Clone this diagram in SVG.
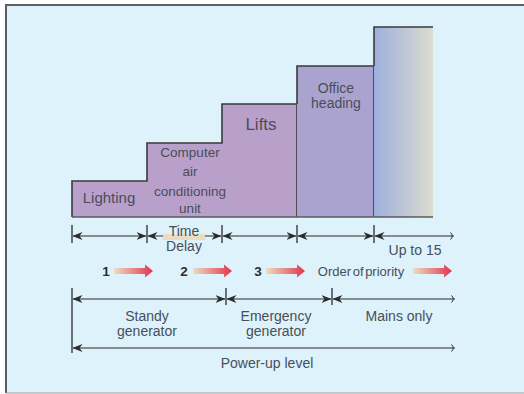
<svg xmlns="http://www.w3.org/2000/svg" width="524" height="394" viewBox="0 0 524 394">
<defs>
<linearGradient id="gLast" x1="0" y1="0" x2="1" y2="0">
<stop offset="0" stop-color="#9eb0dc"/>
<stop offset="1" stop-color="#dcdccf"/>
</linearGradient>
<linearGradient id="gArr" x1="0" y1="0" x2="1" y2="0">
<stop offset="0" stop-color="#eedcc2"/>
<stop offset="1" stop-color="#e0344f"/>
</linearGradient>
<marker id="ah" viewBox="0 0 10 8" refX="9.5" refY="4" markerWidth="10" markerHeight="8" markerUnits="userSpaceOnUse" orient="auto-start-reverse">
<path d="M0,0 L10,4 L0,8 L3,4 Z" fill="#2b2b2b"/>
</marker>
<marker id="ch" viewBox="0 0 5 8" refX="4" refY="4" markerWidth="5" markerHeight="8" markerUnits="userSpaceOnUse" orient="auto">
<path d="M0.5,0.5 Q4,4 0.5,7.5" fill="none" stroke="#2b2b2b" stroke-width="1"/>
</marker>
<g id="parr">
<path d="M0,-3 H31 V-6.5 L39,0 L31,6.5 V3 H0 Z" fill="url(#gArr)"/>
</g>
</defs>
<style>
.t{font-family:"Liberation Sans",Arial,sans-serif;fill:#484e5a;text-anchor:middle}
.n{font-family:"Liberation Sans",Arial,sans-serif;fill:#2e2e2e;text-anchor:middle;font-weight:bold;font-size:13.5px}
.dim{stroke:#2b2b2b;stroke-width:1.2;fill:none}
.tick{stroke:#2b2b2b;stroke-width:1.3}
.ol{stroke:#3a3a3a;stroke-width:1.6;fill:none}
</style>
<rect x="0" y="0" width="524" height="394" fill="#ffffff"/>
<rect x="6" y="5" width="530" height="388" fill="#def2fb"/>
<line x1="6" y1="5" x2="524" y2="5" stroke="#5b5e63" stroke-width="2"/>
<line x1="6" y1="4" x2="6" y2="393" stroke="#5b5e63" stroke-width="2"/>
<line x1="6" y1="393" x2="524" y2="393" stroke="#9a9a9a" stroke-width="1.2"/>

<g id="stairs">
<path d="M72,217 V181 H147 V143 H222 V104 H297 V217 Z" fill="#b9a0cb"/>
<path class="ol" d="M72,217 V181 H147 V143 H222 V104 H297 V217"/>
</g>
<g id="office">
<rect x="297" y="66" width="77" height="151" fill="#aaa3cf"/>
<path class="ol" d="M297,104 V66 H374 V217"/>
</g>
<g id="top">
<rect x="374" y="27" width="59" height="190" fill="url(#gLast)"/>
<path class="ol" d="M374,66 V27 H433"/>
</g>
<line x1="72" y1="217" x2="433" y2="217" stroke="#5a5a5a" stroke-width="1.4"/>

<g id="labels-blocks">
<text class="t" x="109" y="203" font-size="15">Lighting</text>
<text class="t" x="190" y="157" font-size="13.5">Computer</text>
<text class="t" x="190" y="176" font-size="13.5">air</text>
<text class="t" x="190" y="196" font-size="13.5">conditioning</text>
<text class="t" x="190" y="213" font-size="13.5">unit</text>
<text class="t" x="261" y="130" font-size="17">Lifts</text>
<text class="t" x="336" y="93" font-size="14">Office</text>
<text class="t" x="336" y="108" font-size="14">heading</text>
</g>

<g id="connectors">
<line class="tick" x1="72" y1="225" x2="72" y2="243"/>
<line class="tick" x1="147" y1="225" x2="147" y2="243"/>
<line class="tick" x1="222" y1="225" x2="222" y2="243"/>
<line class="tick" x1="297" y1="225" x2="297" y2="243"/>
<line class="tick" x1="374" y1="225" x2="374" y2="243"/>
<line class="dim" x1="73" y1="236" x2="146" y2="236" marker-start="url(#ah)" marker-end="url(#ah)"/>
<line class="dim" x1="148" y1="236" x2="221" y2="236" marker-start="url(#ah)" marker-end="url(#ah)"/>
<line class="dim" x1="223" y1="236" x2="296" y2="236" marker-start="url(#ah)" marker-end="url(#ah)"/>
<line class="dim" x1="298" y1="236" x2="373" y2="236" marker-start="url(#ah)" marker-end="url(#ah)"/>
<line class="dim" x1="375" y1="236" x2="454" y2="236" marker-start="url(#ah)" marker-end="url(#ch)"/>

<line class="tick" x1="72" y1="288" x2="72" y2="353"/>
<line class="tick" x1="226" y1="288" x2="226" y2="305"/>
<line class="tick" x1="332" y1="288" x2="332" y2="305"/>
<line class="dim" x1="73" y1="299" x2="225" y2="299" marker-start="url(#ah)" marker-end="url(#ah)"/>
<line class="dim" x1="227" y1="299" x2="331" y2="299" marker-start="url(#ah)" marker-end="url(#ah)"/>
<line class="dim" x1="333" y1="299" x2="455" y2="299" marker-start="url(#ah)" marker-end="url(#ch)"/>
<line class="dim" x1="73" y1="348" x2="455" y2="348" marker-start="url(#ah)" marker-end="url(#ch)"/>
</g>

<rect x="163" y="234" width="42" height="6" fill="#e9dcc2"/>
<g id="labels-dim">
<text class="t" x="184" y="236" font-size="14">Time</text>
<text class="t" x="184" y="251" font-size="14">Delay</text>
<text class="t" x="415" y="255" font-size="14">Up to 15</text>
<text class="t" x="147" y="321" font-size="14">Standy</text>
<text class="t" x="147" y="336" font-size="14">generator</text>
<text class="t" x="276" y="321" font-size="14">Emergency</text>
<text class="t" x="276" y="336" font-size="14">generator</text>
<text class="t" x="399" y="321" font-size="14">Mains only</text>
<text class="t" x="267" y="368" font-size="14">Power-up level</text>
</g>

<g id="priority">
<text class="n" x="106" y="276">1</text>
<use href="#parr" x="114" y="271"/>
<text class="n" x="184" y="276">2</text>
<use href="#parr" x="193" y="271"/>
<text class="n" x="258" y="276">3</text>
<use href="#parr" x="266" y="271"/>
<text class="t" x="361" y="276" font-size="13" word-spacing="-2">Order of priority</text>
<use href="#parr" x="413" y="271"/>
</g>
</svg>
